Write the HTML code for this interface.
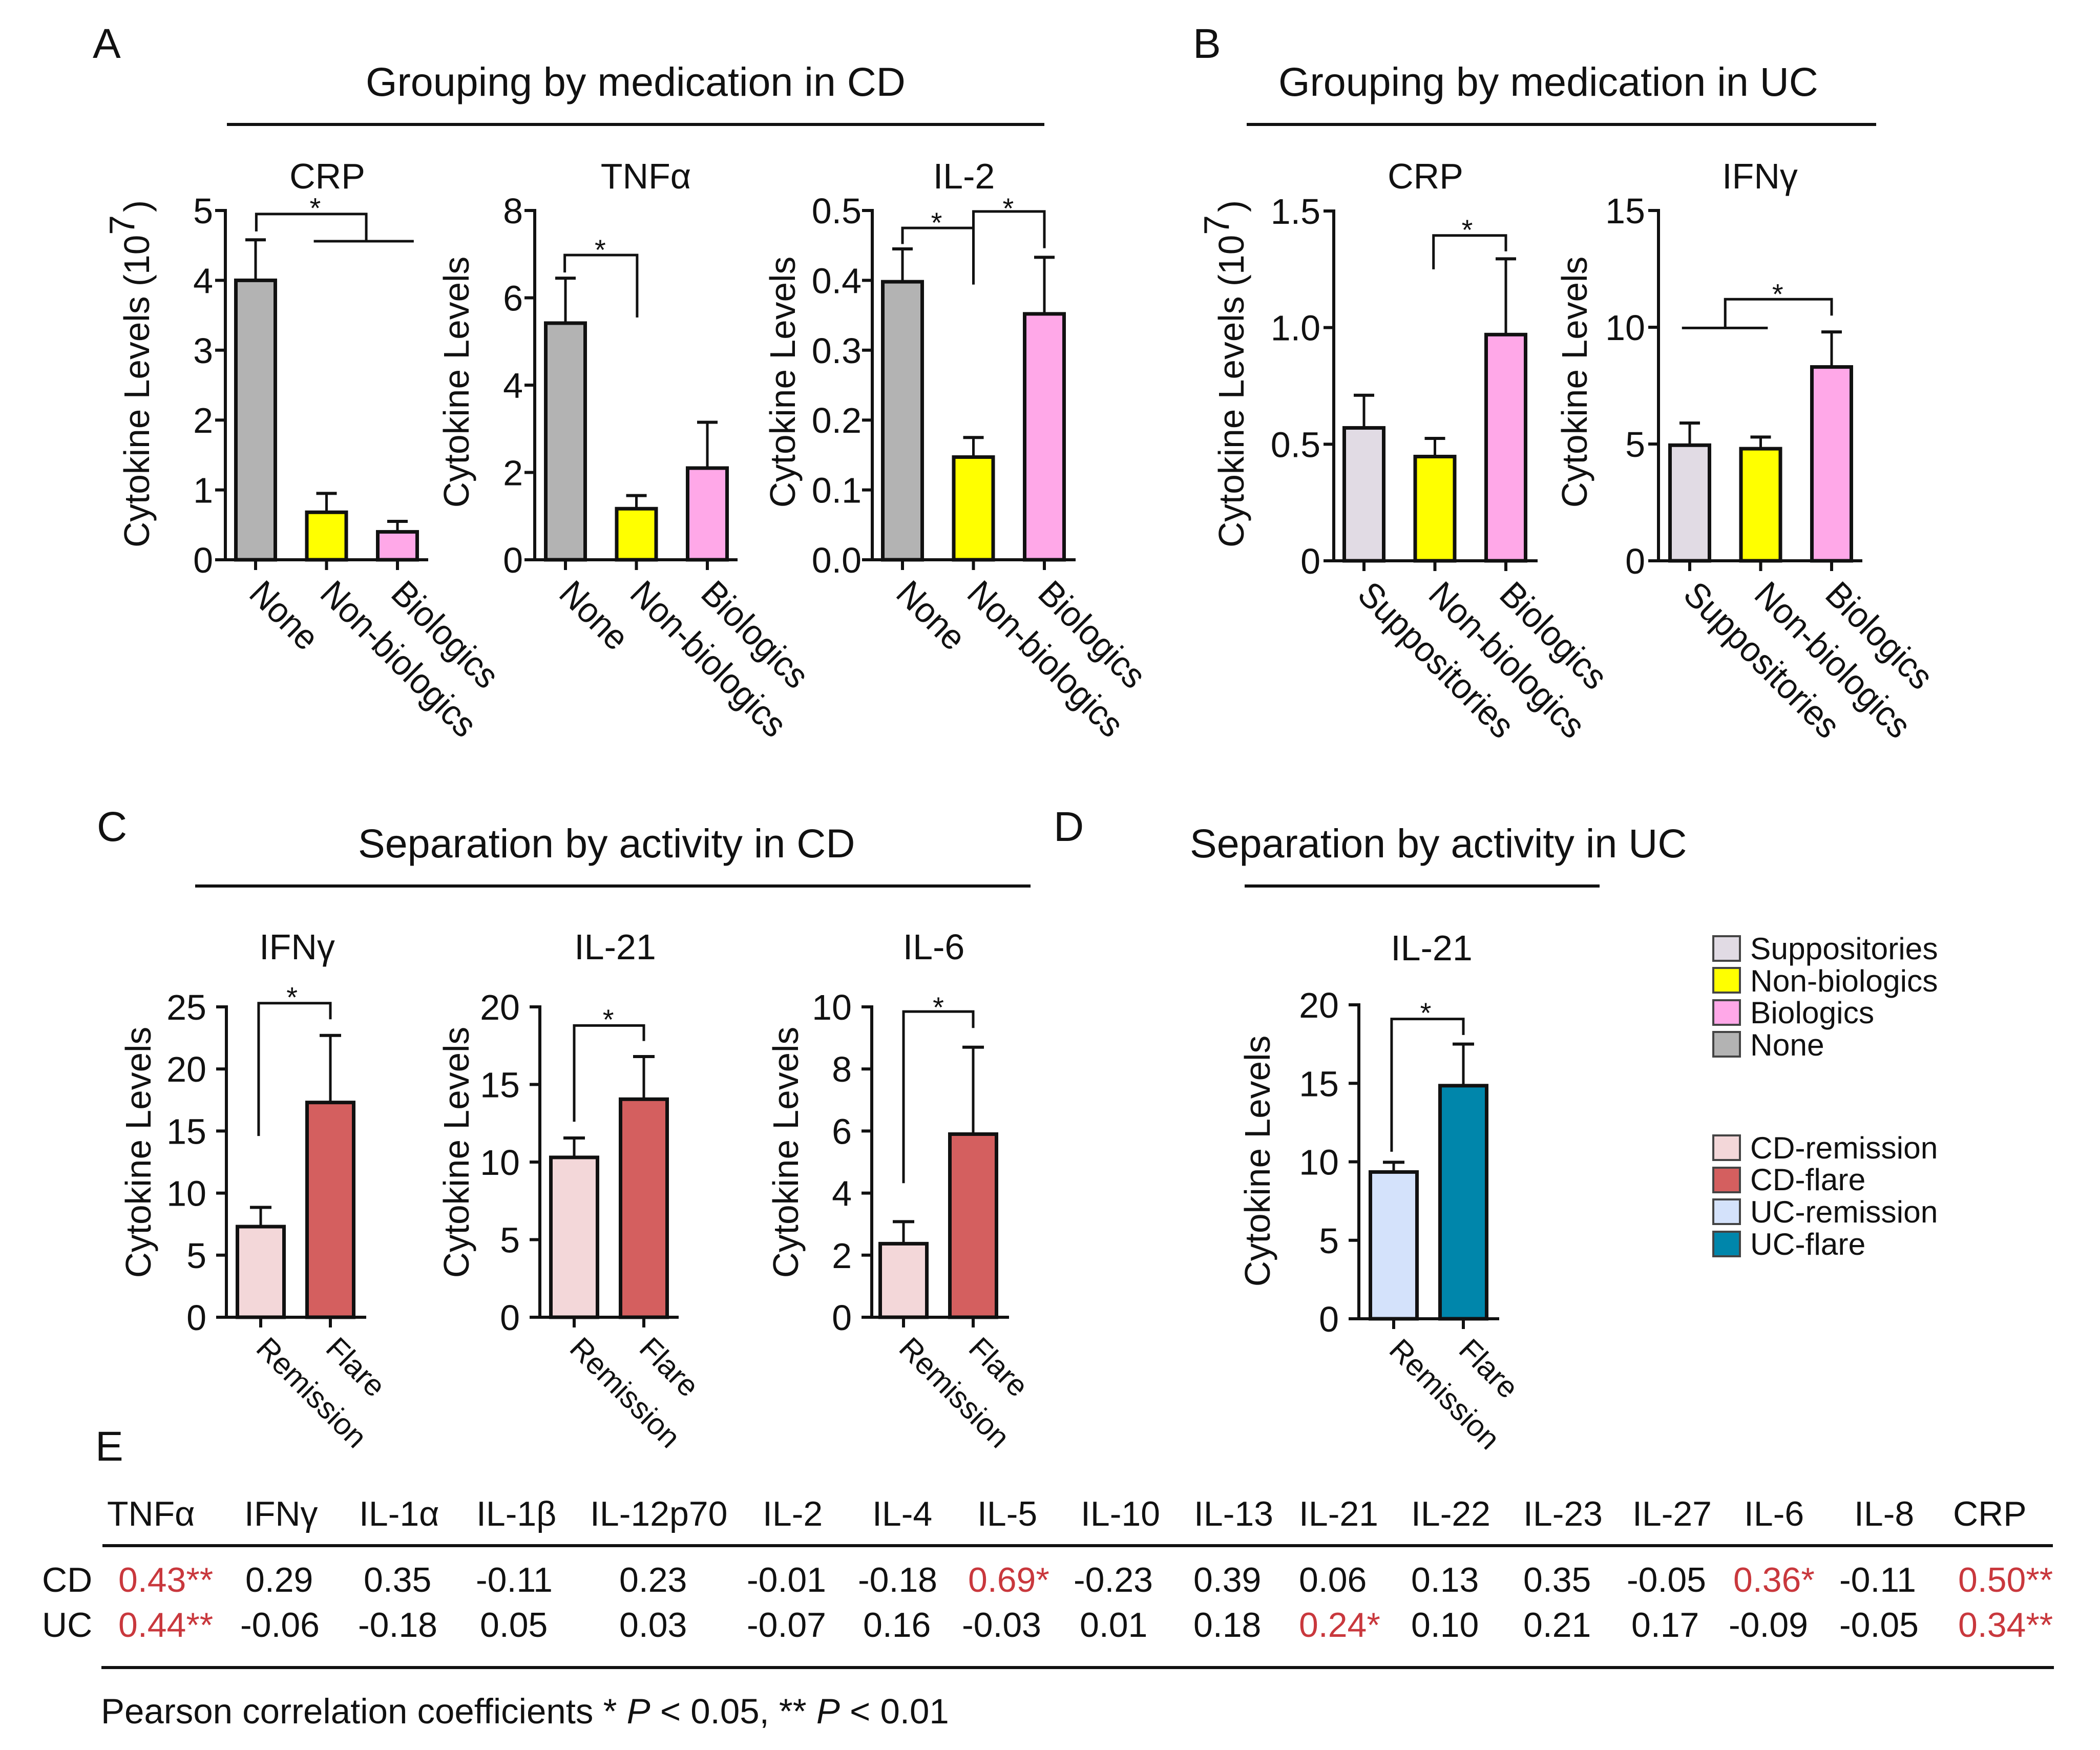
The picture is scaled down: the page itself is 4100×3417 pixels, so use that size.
<!DOCTYPE html>
<html lang="en">
<head>
<meta charset="utf-8">
<title>Cytokine levels by medication and activity</title>
<style>
html,body{margin:0;padding:0;background:#fff;}
svg{display:block;}
text{font-family:"Liberation Sans",Arial,sans-serif;fill:#111;}
.head{font-size:79px;}
.letter{font-size:82px;}
.leg{font-size:60.5px;}
.cell{font-size:68px;}
.red{fill:#c9383d;}
</style>
</head>
<body>
<svg id="figure" xmlns="http://www.w3.org/2000/svg" width="4100" height="3417" viewBox="0 0 4100 3417">
<rect x="0" y="0" width="4100" height="3417" fill="#ffffff"/>

<text class="letter" x="181" y="113">A</text>
<text class="letter" x="2329" y="113">B</text>
<text class="letter" x="189" y="1642">C</text>
<text class="letter" x="2057" y="1642">D</text>
<text class="letter" x="186" y="2852">E</text>

<text class="head" x="714" y="187">Grouping by medication in CD</text>
<rect x="443" y="240" width="1596" height="6" fill="#111"/>
<text class="head" x="2496" y="187">Grouping by medication in UC</text>
<rect x="2434" y="240" width="1229" height="6" fill="#111"/>
<text class="head" x="699" y="1674">Separation by activity in CD</text>
<rect x="381" y="1727" width="1631" height="6" fill="#111"/>
<text class="head" x="2323" y="1674">Separation by activity in UC</text>
<rect x="2430" y="1727" width="693" height="6" fill="#111"/>

<g stroke-width="4">
<rect x="3345" y="1828" width="52" height="48" fill="#e1dbe4" stroke="#444"/>
<text class="leg" x="3417" y="1873">Suppositories</text>
<rect x="3345" y="1890" width="52" height="48" fill="#ffff00" stroke="#444"/>
<text class="leg" x="3417" y="1936">Non-biologics</text>
<rect x="3345" y="1953" width="52" height="48" fill="#ffa8e8" stroke="#444"/>
<text class="leg" x="3417" y="1998">Biologics</text>
<rect x="3345" y="2015" width="52" height="48" fill="#b3b3b3" stroke="#444"/>
<text class="leg" x="3417" y="2061">None</text>
</g>
<g stroke-width="4">
<rect x="3345" y="2217" width="52" height="48" fill="#f3d7d9" stroke="#444"/>
<text class="leg" x="3417" y="2262">CD-remission</text>
<rect x="3345" y="2280" width="52" height="48" fill="#d45f5f" stroke="#444"/>
<text class="leg" x="3417" y="2324">CD-flare</text>
<rect x="3345" y="2342" width="52" height="48" fill="#d4e2fb" stroke="#444"/>
<text class="leg" x="3417" y="2387">UC-remission</text>
<rect x="3345" y="2405" width="52" height="48" fill="#0086ab" stroke="#444"/>
<text class="leg" x="3417" y="2450">UC-flare</text>
</g>

<g>
<rect x="200" y="3015" width="3808" height="6" fill="#111"/>
<rect x="198" y="3253" width="3812" height="6" fill="#111"/>
<g>
<text class="cell" x="209" y="2979">TNFα</text>
<text class="cell" x="477" y="2979">IFNγ</text>
<text class="cell" x="701" y="2979">IL-1α</text>
<text class="cell" x="930" y="2979">IL-1β</text>
<text class="cell" x="1152" y="2979">IL-12p70</text>
<text class="cell" x="1489" y="2979">IL-2</text>
<text class="cell" x="1703" y="2979">IL-4</text>
<text class="cell" x="1908" y="2979">IL-5</text>
<text class="cell" x="2110" y="2979">IL-10</text>
<text class="cell" x="2331" y="2979">IL-13</text>
<text class="cell" x="2536" y="2979">IL-21</text>
<text class="cell" x="2755" y="2979">IL-22</text>
<text class="cell" x="2974" y="2979">IL-23</text>
<text class="cell" x="3187" y="2979">IL-27</text>
<text class="cell" x="3405" y="2979">IL-6</text>
<text class="cell" x="3620" y="2979">IL-8</text>
<text class="cell" x="3813" y="2979">CRP</text>
</g>
<g>
<text class="cell" x="82" y="3108">CD</text>
<text class="cell red" x="231" y="3108">0.43**</text>
<text class="cell" x="479" y="3108">0.29</text>
<text class="cell" x="710" y="3108">0.35</text>
<text class="cell" x="929" y="3108">-0.11</text>
<text class="cell" x="1209" y="3108">0.23</text>
<text class="cell" x="1458" y="3108">-0.01</text>
<text class="cell" x="1675" y="3108">-0.18</text>
<text class="cell red" x="1890" y="3108">0.69*</text>
<text class="cell" x="2096" y="3108">-0.23</text>
<text class="cell" x="2330" y="3108">0.39</text>
<text class="cell" x="2536" y="3108">0.06</text>
<text class="cell" x="2755" y="3108">0.13</text>
<text class="cell" x="2974" y="3108">0.35</text>
<text class="cell" x="3176" y="3108">-0.05</text>
<text class="cell red" x="3384" y="3108">0.36*</text>
<text class="cell" x="3591" y="3108">-0.11</text>
<text class="cell red" x="3823" y="3108">0.50**</text>
</g>
<g>
<text class="cell" x="82" y="3196">UC</text>
<text class="cell red" x="231" y="3196">0.44**</text>
<text class="cell" x="469" y="3196">-0.06</text>
<text class="cell" x="699" y="3196">-0.18</text>
<text class="cell" x="937" y="3196">0.05</text>
<text class="cell" x="1209" y="3196">0.03</text>
<text class="cell" x="1458" y="3196">-0.07</text>
<text class="cell" x="1685" y="3196">0.16</text>
<text class="cell" x="1878" y="3196">-0.03</text>
<text class="cell" x="2108" y="3196">0.01</text>
<text class="cell" x="2330" y="3196">0.18</text>
<text class="cell red" x="2536" y="3196">0.24*</text>
<text class="cell" x="2755" y="3196">0.10</text>
<text class="cell" x="2974" y="3196">0.21</text>
<text class="cell" x="3185" y="3196">0.17</text>
<text class="cell" x="3375" y="3196">-0.09</text>
<text class="cell" x="3591" y="3196">-0.05</text>
<text class="cell red" x="3823" y="3196">0.34**</text>
</g>
<text x="197" y="3365" font-size="69">Pearson correlation coefficients * <tspan font-style="italic">P</tspan> &lt; 0.05, ** <tspan font-style="italic">P</tspan> &lt; 0.01</text>
</g>
</svg>

<script>
// ---------- Chart data ----------
const medicationCD = ['None', 'Non-biologics', 'Biologics'];
const medicationUC = ['Suppositories', 'Non-biologics', 'Biologics'];
const activity = ['Remission', 'Flare'];

const aCrpValues = [4.0, 0.68, 0.4];
const aCrpErrorTops = [4.58, 0.95, 0.55];
const aCrpTicks = ['0', '1', '2', '3', '4', '5'];

const aTnfValues = [5.42, 1.17, 2.1];
const aTnfErrorTops = [6.45, 1.47, 3.15];
const aTnfTicks = ['0', '2', '4', '6', '8'];

const aIl2Values = [0.398, 0.147, 0.352];
const aIl2ErrorTops = [0.445, 0.175, 0.433];
const aIl2Ticks = ['0.0', '0.1', '0.2', '0.3', '0.4', '0.5'];

const bCrpValues = [0.57, 0.447, 0.97];
const bCrpErrorTops = [0.71, 0.525, 1.295];
const bCrpTicks = ['0', '0.5', '1.0', '1.5'];

const bIfnValues = [4.95, 4.8, 8.3];
const bIfnErrorTops = [5.9, 5.3, 9.8];
const bIfnTicks = ['0', '5', '10', '15'];

const cIfnValues = [7.3, 17.3];
const cIfnErrorTops = [8.85, 22.7];
const cIfnTicks = ['0', '5', '10', '15', '20', '25'];

const cIl21Values = [10.3, 14.05];
const cIl21ErrorTops = [11.55, 16.8];
const cIl21Ticks = ['0', '5', '10', '15', '20'];

const cIl6Values = [2.37, 5.9];
const cIl6ErrorTops = [3.08, 8.7];
const cIl6Ticks = ['0', '2', '4', '6', '8', '10'];

const dIl21Values = [9.35, 14.85];
const dIl21ErrorTops = [9.97, 17.5];
const dIl21Ticks = ['0', '5', '10', '15', '20'];

// Significance brackets and stars, in [category index, axis value] units
const aCrpBrackets = [[[0.01, 4.70], [0.01, 4.95], [1.56, 4.95], [1.56, 4.56]], [[0.82, 4.56], [2.23, 4.56]]];
const aCrpStars = [[0.84, 5.13]];
const aTnfBrackets = [[[-0.01, 6.58], [-0.01, 6.98], [1.01, 6.98], [1.01, 5.55]]];
const aTnfStars = [[0.49, 7.25]];
const aIl2Brackets = [[[0, 0.452], [0, 0.475], [1, 0.475], [1, 0.394]], [[1, 0.475], [1, 0.4986], [2, 0.4986], [2, 0.446]]];
const aIl2Stars = [[0.48, 0.492], [1.49, 0.5126]];
const bCrpBrackets = [[[0.98, 1.25], [0.98, 1.395], [2, 1.395], [2, 1.327]]];
const bCrpStars = [[1.455, 1.447]];
const bIfnBrackets = [[[-0.11, 9.97], [1.1, 9.97]], [[0.5, 9.97], [0.5, 11.2], [2, 11.2], [2, 10.5]]];
const bIfnStars = [[1.24, 11.7]];
const cIfnBrackets = [[[-0.03, 14.6], [-0.03, 25.3], [1, 25.3], [1, 24.0]]];
const cIfnStars = [[0.45, 26.3]];
const cIl21Brackets = [[[0, 12.6], [0, 18.8], [1, 18.8], [1, 17.8]]];
const cIl21Stars = [[0.49, 19.6]];
const cIl6Brackets = [[[0, 4.32], [0, 9.85], [1, 9.85], [1, 9.32]]];
const cIl6Stars = [[0.5, 10.2]];
const dIl21Brackets = [[[-0.03, 10.64], [-0.03, 19.1], [1, 19.1], [1, 18.08]]];
const dIl21Stars = [[0.46, 19.9]];

// ---------- Styling per category ----------
const GREY = '#b3b3b3', YELLOW = '#ffff00', PINK = '#ffa8e8', LILAC = '#e1dbe4';
const PALE_RED = '#f3d7d9', RED = '#d45f5f', PALE_BLUE = '#d4e2fb', TEAL = '#0086ab';
const NS = 'http://www.w3.org/2000/svg';
const figure = document.getElementById('figure');

function make(parent, tag, attrs, text) {
  const node = document.createElementNS(NS, tag);
  for (const k in attrs) node.setAttribute(k, attrs[k]);
  if (text !== undefined) node.textContent = text;
  parent.appendChild(node);
  return node;
}

function slug(s) {
  return s.toLowerCase().replace(/[^a-z0-9]+/g, '-');
}

function drawChart(c) {
  const g = make(figure, 'g', {});
  
  

  const yMax = parseFloat(c.ticks[c.ticks.length - 1]);
  const yScale = v => c.bottom - (v / yMax) * (c.bottom - c.top);
  const xScale = i => c.first + c.step * i;

  // chart title
  const title = make(g, 'text', {x: c.titleX, y: c.titleY, 'text-anchor': 'middle', 'font-size': 70}, c.title);
  
  

  // y axis label
  const label = make(g, 'text', {
    transform: 'translate(' + c.labelX + ',' + c.labelY + ') rotate(-90)',
    'text-anchor': c.power ? 'start' : 'middle', 'font-size': 69.5
  }, 'Cytokine Levels');
  
  
  if (c.power) {
    label.textContent = 'Cytokine Levels (10';
    make(label, 'tspan', {dy: -29}, '7');
    make(label, 'tspan', {dy: 29, dx: 6}, ')');
  }

  // bars and error bars
  c.values.forEach((v, i) => {
    const cx = xScale(i);
    const stem = make(g, 'line', {x1: cx, x2: cx, y1: yScale(v), y2: yScale(c.errorTops[i]), stroke: '#111', 'stroke-width': 5});
    
    
    const cap = make(g, 'line', {x1: cx - c.cap / 2, x2: cx + c.cap / 2, y1: yScale(c.errorTops[i]), y2: yScale(c.errorTops[i]), stroke: '#111', 'stroke-width': 6});
    
    
    const bar = make(g, 'rect', {x: cx - c.barWidth / 2, y: yScale(v), width: c.barWidth, height: c.bottom - yScale(v), fill: c.colors[i], stroke: '#111', 'stroke-width': 7});
    
    
  });

  // axes
  const yAxis = make(g, 'line', {x1: c.axisX, x2: c.axisX, y1: c.top - 3, y2: c.bottom + 3, stroke: '#111', 'stroke-width': 6});
  
  
  const xAxis = make(g, 'line', {x1: c.xStart, x2: c.xEnd, y1: c.bottom, y2: c.bottom, stroke: '#111', 'stroke-width': 6});
  
  

  // y ticks
  c.ticks.forEach(t => {
    const y = yScale(parseFloat(t));
    const tick = make(g, 'line', {x1: c.axisX - 20, x2: c.axisX, y1: y, y2: y, stroke: '#111', 'stroke-width': 6});
    
    
    const txt = make(g, 'text', {x: c.axisX - c.tickGap, y: y + 25, 'text-anchor': 'end', 'font-size': 70}, t);
    
    
  });

  // x ticks and rotated labels
  c.categories.forEach((name, i) => {
    const cx = xScale(i);
    const tick = make(g, 'line', {x1: cx, x2: cx, y1: c.bottom, y2: c.bottom + 20, stroke: '#111', 'stroke-width': 6});
    
    
    const txt = make(g, 'text', {transform: 'translate(' + (cx - c.labelDx) + ',' + (c.bottom + c.labelDy) + ') rotate(45) scale(1,' + c.labelStretch + ')', 'font-size': c.labelSize}, name);
    
    
  });

  // significance brackets
  c.brackets.forEach(points => {
    const coords = points.map(p => xScale(p[0]) + ',' + yScale(p[1])).join(' ');
    const line = make(g, 'polyline', {points: coords, fill: 'none', stroke: '#111', 'stroke-width': 5});
    
    
  });
  c.stars.forEach(p => {
    const star = make(g, 'text', {x: xScale(p[0]), y: yScale(p[1]) + 32, 'text-anchor': 'middle', 'font-size': 56}, '*');
    
    
  });
}

const wideBar = {barWidth: 77, cap: 40, step: 138.5, labelSize: 65.5, labelDx: 16, labelDy: 70, labelStretch: 1.06};
const medCD = [GREY, YELLOW, PINK];
const medUC = [LILAC, YELLOW, PINK];

drawChart(Object.assign({id: 'chart-a-crp', title: 'CRP', titleX: 639, titleY: 368, labelX: 291, labelY: 1069, power: true, axisX: 440, top: 411, bottom: 1093, first: 499, xStart: 420, xEnd: 836, tickGap: 24, categories: medicationCD, colors: medCD, values: aCrpValues, errorTops: aCrpErrorTops, ticks: aCrpTicks, brackets: aCrpBrackets, stars: aCrpStars}, wideBar));
drawChart(Object.assign({id: 'chart-a-tnfa', title: 'TNFα', titleX: 1261, titleY: 368, labelX: 915, labelY: 746, axisX: 1044, top: 411, bottom: 1093, first: 1104, xStart: 1024, xEnd: 1440, tickGap: 23, categories: medicationCD, colors: medCD, values: aTnfValues, errorTops: aTnfErrorTops, ticks: aTnfTicks, brackets: aTnfBrackets, stars: aTnfStars}, wideBar));
drawChart(Object.assign({id: 'chart-a-il-2', title: 'IL-2', titleX: 1882, titleY: 368, labelX: 1552, labelY: 746, axisX: 1703, top: 411, bottom: 1093, first: 1762, xStart: 1683, xEnd: 2100, tickGap: 21, categories: medicationCD, colors: medCD, values: aIl2Values, errorTops: aIl2ErrorTops, ticks: aIl2Ticks, brackets: aIl2Brackets, stars: aIl2Stars}, wideBar));
drawChart(Object.assign({id: 'chart-b-crp', title: 'CRP', titleX: 2783, titleY: 368, labelX: 2428, labelY: 1069, power: true, axisX: 2604, top: 412, bottom: 1095, first: 2663, xStart: 2584, xEnd: 3002, tickGap: 26, categories: medicationUC, colors: medUC, values: bCrpValues, errorTops: bCrpErrorTops, ticks: bCrpTicks, brackets: bCrpBrackets, stars: bCrpStars}, wideBar));
drawChart(Object.assign({id: 'chart-b-ifng', title: 'IFNγ', titleX: 3436, titleY: 368, labelX: 3098, labelY: 746, axisX: 3238, top: 411, bottom: 1095, first: 3299, xStart: 3218, xEnd: 3636, tickGap: 26, categories: medicationUC, colors: medUC, values: bIfnValues, errorTops: bIfnErrorTops, ticks: bIfnTicks, brackets: bIfnBrackets, stars: bIfnStars}, wideBar));

const narrowBar = {barWidth: 91, cap: 42, step: 136, tickGap: 39, categories: activity, labelSize: 59, labelDx: 12, labelDy: 64, labelStretch: 1};
const cdColors = [PALE_RED, RED];
const ucColors = [PALE_BLUE, TEAL];

drawChart(Object.assign({id: 'chart-c-ifng', title: 'IFNγ', titleX: 580, titleY: 1873, labelX: 294, labelY: 2250, axisX: 442, top: 1966, bottom: 2572, first: 509, xStart: 424, xEnd: 715, colors: cdColors, values: cIfnValues, errorTops: cIfnErrorTops, ticks: cIfnTicks, brackets: cIfnBrackets, stars: cIfnStars}, narrowBar));
drawChart(Object.assign({id: 'chart-c-il-21', title: 'IL-21', titleX: 1201, titleY: 1873, labelX: 915, labelY: 2250, axisX: 1054, top: 1966, bottom: 2572, first: 1121, xStart: 1036, xEnd: 1325, colors: cdColors, values: cIl21Values, errorTops: cIl21ErrorTops, ticks: cIl21Ticks, brackets: cIl21Brackets, stars: cIl21Stars}, narrowBar));
drawChart(Object.assign({id: 'chart-c-il-6', title: 'IL-6', titleX: 1823, titleY: 1873, labelX: 1558, labelY: 2250, axisX: 1702, top: 1966, bottom: 2572, first: 1764, xStart: 1682, xEnd: 1970, colors: cdColors, values: cIl6Values, errorTops: cIl6ErrorTops, ticks: cIl6Ticks, brackets: cIl6Brackets, stars: cIl6Stars}, narrowBar));
drawChart(Object.assign({id: 'chart-d-il-21', title: 'IL-21', titleX: 2795, titleY: 1875, labelX: 2479, labelY: 2267, axisX: 2653, top: 1962, bottom: 2575, first: 2721, xStart: 2635, xEnd: 2927, colors: ucColors, values: dIl21Values, errorTops: dIl21ErrorTops, ticks: dIl21Ticks, brackets: dIl21Brackets, stars: dIl21Stars}, narrowBar));
</script>
</body>
</html>
